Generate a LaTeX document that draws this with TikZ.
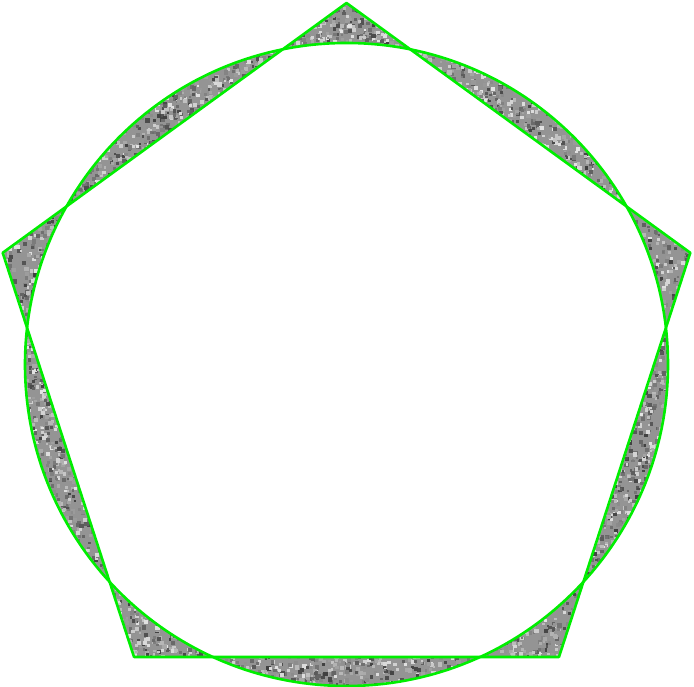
\documentclass[tikz,border=0pt]{standalone}
\usetikzlibrary{calc}
\definecolor{edgegreen}{RGB}{0,238,0}
\tikzset{
  outline/.style={draw=edgegreen,line width=2.6pt,line join=round},
}
\begin{document}
\begin{tikzpicture}[x=1pt,y=1pt]
\useasboundingbox (0,0) rectangle (694,687);
\begin{scope}[shift={(346.5,322.5)}]
  \begin{scope}[even odd rule]
    \clip (0,0) circle (321.5) (90:361.5) -- (18:361.5) -- (-54:361.5) -- (-126:361.5) -- (162:361.5) -- cycle;
    \fill[black!42] (-360,-360) rectangle (360,370);
    \pgfmathsetseed{7}
    \foreach \i in {1,...,8000}{
      \pgfmathsetmacro\myang{rnd*360}
      \pgfmathsetmacro\myrad{287+rnd*78}
      \pgfmathsetmacro\myshade{25+rnd*65}
      \pgfmathsetmacro\mysize{2.2+rnd*2.2}
      \fill[white!\myshade!black] (\myang:\myrad) rectangle ++(\mysize,\mysize);
    }
  \end{scope}
  \draw[outline] (0,0) circle (321.5);
  \draw[outline] (90:361.5) -- (18:361.5) -- (-54:361.5) -- (-126:361.5) -- (162:361.5) -- cycle;
\end{scope}
\end{tikzpicture}
\end{document}
